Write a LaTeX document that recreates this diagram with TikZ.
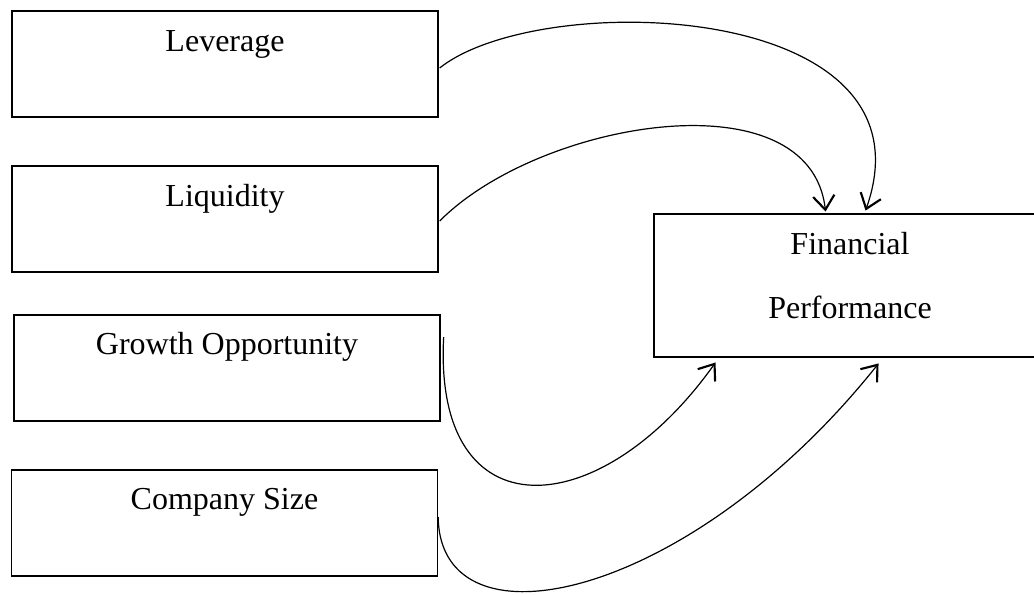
\documentclass[tikz,border=0pt]{standalone}
\usepackage{fontspec}
\setmainfont{Liberation Serif}
\usetikzlibrary{arrows.meta,calc}
\begin{document}
\begin{tikzpicture}[x=0.75pt,y=-0.75pt,
 inbox/.style={draw,line width=1pt,minimum width=319.5pt,minimum height=79.5pt,inner sep=0pt},
 outbox/.style={draw,line width=2.2pt,minimum width=293.25pt,minimum height=107.25pt,inner sep=0pt},
 lbl/.style={anchor=base,font=\fontsize{24}{28}\selectfont,inner sep=0pt},
 link/.style={line width=0.9pt,-{Straight Barb[length=10.5pt,width=16pt,line width=1.6pt]}}]
\useasboundingbox (0,0) rectangle (1034,594);
\clip (0,0) rectangle (1034,594);
\node[inbox] (lev) at (225,64) {};
\node[inbox] (liq) at (225,219) {};
\node[inbox] (gro) at (227,368) {};
\node[inbox] (com) at (224.5,523) {};
\node[outbox] (fp) at (849.5,285.5) {};
\node[lbl] (levt) at ($(lev.north)+(0,41)$) {Leverage};
\node[lbl] (liqt) at ($(liq.north)+(0,41)$) {Liquidity};
\node[lbl] (grot) at ($(gro.north)+(0,40)$) {Growth Opportunity};
\node[lbl] (comt) at ($(com.north)+(0,40)$) {Company Size};
\node[lbl] (fpt1) at (850,254) {Financial};
\node[lbl] (fpt2) at (850,318) {Performance};
\draw[link] ($(lev.east)+(1,4)$) .. controls (540,-12) and (940,0) .. ($(fp.north west)+(213,-2)$);
\draw[link] ($(liq.east)+(1,2)$) .. controls (540,120) and (810,75) .. ($(fp.north west)+(173,-1)$);
\draw[link] ($(gro.east)+(3,-31)$) .. controls (433,535) and (600,525) .. ($(fp.south west)+(63,4)$);
\draw[link] ($(com.east)+(0,-6)$) .. controls (440,655) and (690,600) .. ($(fp.south west)+(226,5)$);
\end{tikzpicture}
\end{document}
